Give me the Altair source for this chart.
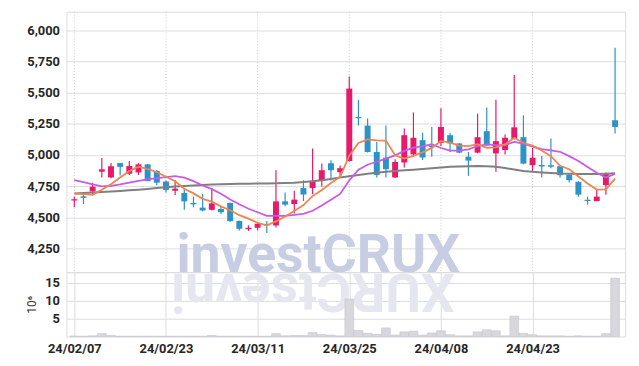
import altair as alt
import pandas as pd

dates = ["24/02/07", "24/02/08", "24/02/13", "24/02/14", "24/02/15", "24/02/16", "24/02/19", "24/02/20", "24/02/21", "24/02/22",
         "24/02/23", "24/02/26", "24/02/27", "24/02/28", "24/02/29", "24/03/04", "24/03/05", "24/03/06", "24/03/07", "24/03/08",
         "24/03/11", "24/03/12", "24/03/13", "24/03/14", "24/03/15", "24/03/18", "24/03/19", "24/03/20", "24/03/21", "24/03/22",
         "24/03/25", "24/03/26", "24/03/27", "24/03/28", "24/03/29", "24/04/01", "24/04/02", "24/04/03", "24/04/04", "24/04/05",
         "24/04/08", "24/04/09", "24/04/11", "24/04/12", "24/04/15", "24/04/16", "24/04/17", "24/04/18", "24/04/19", "24/04/22",
         "24/04/23", "24/04/24", "24/04/25", "24/04/26", "24/04/29", "24/04/30", "24/05/02", "24/05/03", "24/05/07", "24/05/08"]

opens = [4635, 4668, 4708, 4866, 4820, 4935, 4850, 4860, 4925, 4872,
         4787, 4713, 4695, 4616, 4578, 4560, 4567, 4615, 4471, 4405,
         4416, 4447, 4435, 4628, 4607, 4735, 4735, 4795, 4934, 4862,
         4952, 5305, 5236, 5024, 4979, 4820, 4940, 5005, 5119, 5074,
         5098, 5159, 5093, 4986, 5019, 5191, 5013, 5040, 5130, 5143,
         4918, 4920, 4918, 4910, 4841, 4785, 4641, 4630, 4758, 5279]
closes = [4645, 4656, 4745, 4885, 4910, 4905, 4912, 4925, 4790, 4778,
          4720, 4730, 4628, 4604, 4555, 4612, 4541, 4469, 4408, 4416,
          4448, 4435, 4628, 4602, 4642, 4683, 4793, 4878, 4878, 4894,
          5533, 5295, 5024, 4840, 4886, 4944, 5159, 5138, 4980, 5062,
          5225, 5093, 5019, 4955, 5143, 5077, 5111, 5138, 5222, 4931,
          4978, 4908, 4906, 4838, 4798, 4682, 4631, 4666, 4846, 5225]
highs = [4665, 4700, 4777, 4975, 4935, 4935, 4952, 4935, 4928, 4880,
         4798, 4798, 4730, 4666, 4688, 4735, 4590, 4618, 4475, 4435,
         4462, 4470, 4878, 4700, 4713, 4798, 5053, 4931, 4958, 4915,
         5630, 5443, 5292, 5104, 5236, 4966, 5212, 5342, 5178, 5225,
         5376, 5178, 5095, 5024, 5332, 5382, 5443, 5164, 5642, 5318,
         5058, 4992, 5133, 4915, 4845, 4790, 4666, 4727, 4859, 5860]
lows = [4580, 4607, 4680, 4820, 4813, 4835, 4840, 4840, 4795, 4757,
        4700, 4680, 4560, 4580, 4548, 4555, 4525, 4465, 4395, 4390,
        4395, 4375, 4418, 4588, 4530, 4630, 4685, 4745, 4795, 4822,
        4945, 5236, 5020, 4820, 4820, 4815, 4900, 4986, 4960, 4986,
        5072, 5024, 5015, 4833, 5013, 5072, 4865, 5005, 5125, 4926,
        4865, 4820, 4894, 4820, 4780, 4666, 4602, 4628, 4682, 5173]
volumes = [0.15, 0.1, 0.2, 0.8, 0.3, 0.1, 0.1, 0.1, 0.1, 0.1,
           0.1, 0.1, 0.1, 0.1, 0.1, 0.3, 0.1, 0.1, 0.1, 0.1,
           0.1, 0.1, 0.8, 0.2, 0.3, 0.3, 1.1, 0.6, 0.4, 0.2,
           10.5, 1.7, 0.9, 0.6, 2.4, 0.4, 1.3, 1.5, 0.4, 1.0,
           1.6, 0.5, 0.2, 0.2, 1.3, 1.9, 1.6, 0.2, 5.7, 0.9,
           0.5, 0.2, 0.2, 0.2, 0.1, 0.2, 0.1, 0.1, 0.8, 16.3]
ma5 = [4690, 4686, 4680, 4722, 4766, 4819, 4871, 4907, 4888, 4862,
       4825, 4789, 4729, 4692, 4648, 4626, 4588, 4557, 4517, 4489,
       4456, 4436, 4467, 4506, 4551, 4598, 4670, 4720, 4775, 4825,
       4995, 5096, 5125, 5118, 5116, 4998, 4971, 4993, 5021, 5057,
       5113, 5100, 5076, 5071, 5087, 5057, 5061, 5085, 5138, 5096,
       5076, 5036, 4990, 4913, 4886, 4827, 4772, 4723, 4725, 4810]
ma10 = [4798, 4782, 4765, 4748, 4752, 4764, 4778, 4792, 4805, 4814,
        4822, 4830, 4818, 4790, 4755, 4726, 4689, 4643, 4605, 4569,
        4541, 4512, 4512, 4512, 4520, 4527, 4553, 4594, 4641, 4688,
        4797, 4883, 4922, 4946, 4971, 4997, 5033, 5059, 5070, 5086,
        5056, 5035, 5035, 5046, 5072, 5085, 5080, 5080, 5105, 5091,
        5067, 5048, 5037, 5026, 4991, 4952, 4904, 4857, 4819, 4848]
ma_long = [4692, 4695, 4699, 4703, 4707, 4712, 4717, 4722, 4728, 4735,
           4742, 4748, 4752, 4756, 4760, 4763, 4766, 4768, 4769, 4770,
           4771, 4772, 4773, 4775, 4778, 4783, 4790, 4798, 4808, 4820,
           4830, 4840, 4850, 4858, 4865, 4871, 4877, 4882, 4887, 4893,
           4900, 4905, 4908, 4910, 4911, 4910, 4905, 4895, 4883, 4872,
           4865, 4860, 4856, 4852, 4850, 4848, 4847, 4848, 4850, 4853]

price_ticks = [4250, 4500, 4750, 5000, 5250, 5500, 5750, 6000]
vol_ticks = [5, 10, 15]
date_tick_idx = [0, 10, 20, 30, 40, 50]
watermark = "investCRUX"

df = pd.DataFrame({
    "i": list(range(len(dates))), "date": dates,
    "open": opens, "high": highs, "low": lows, "close": closes,
    "vol": volumes, "ma5": ma5, "ma10": ma10, "malong": ma_long,
})
grid_df = pd.DataFrame({"i": date_tick_idx})

UP = "#e8196a"
DOWN = "#2b93c6"
W, H1, H2 = 564, 263, 65
FONT = "Roboto"
GRID = "#c6c8dc"
LBL = dict(labelFont=FONT, labelFontSize=13, labelFontWeight="bold", labelColor="#262626")

xscale = alt.Scale(domain=[-0.32, 59.55], nice=False, zero=False)
label_expr = " : ".join(f"datum.value == {t} ? '{dates[t]}'" for t in date_tick_idx) + " : ''"

color = alt.condition("datum.close >= datum.open", alt.value(UP), alt.value(DOWN))
yprice = alt.Scale(domain=[4060, 6150], nice=False, zero=False)


def X():
    return alt.X("i:Q", scale=xscale, axis=None)


def Yp(field):
    return alt.Y(field, scale=yprice, title=None,
                 axis=alt.Axis(values=price_ticks, format=",.0f", ticks=False, domain=False, grid=True,
                               labelPadding=7, **LBL))


base = alt.Chart(df)

vgrid = alt.Chart(grid_df).mark_rule(color=GRID, strokeDash=[1, 2], strokeWidth=1).encode(x=X())

wm = alt.Chart(pd.DataFrame({"t": [watermark]})).mark_text(
    font="Roboto", fontSize=54, fontWeight="bold", color="#c7cde2", align="left", baseline="alphabetic"
).encode(x=alt.value(111), y=alt.value(263), text="t:N")

wick = base.mark_rule(strokeWidth=1.2).encode(x=X(), y=Yp("low:Q"), y2="high:Q", color=color)
body = base.mark_bar(size=6).encode(x=X(), y=Yp("open:Q"), y2="close:Q", color=color)
line_long = base.mark_line(color="#808080", strokeWidth=2).encode(x=X(), y=Yp("malong:Q"))
line10 = base.mark_line(color="#c95ae6", strokeWidth=1.8).encode(x=X(), y=Yp("ma10:Q"))
line5 = base.mark_line(color="#ee8450", strokeWidth=1.8).encode(x=X(), y=Yp("ma5:Q"))

price = alt.layer(vgrid, wm, wick, body, line_long, line10, line5).properties(width=W, height=H1)

refl = alt.Chart(pd.DataFrame({"t": [watermark[::-1]]})).mark_text(
    font="Roboto", fontSize=54, fontWeight="bold", color="#e5e6ef", align="left", baseline="alphabetic", angle=180
).encode(x=alt.value(392), y=alt.value(2), text="t:N")

vbars = base.mark_bar(size=8.8, color="#d7d7dd", stroke="#c3c3cb", strokeWidth=0.6).encode(
    x=alt.X("i:Q", scale=xscale, title=None,
            axis=alt.Axis(values=date_tick_idx, labelExpr=label_expr, ticks=False, domain=False, grid=True,
                          labelPadding=6, labelFont=FONT, labelFontSize=13, labelFontWeight="bold",
                          labelColor="#262626")),
    y=alt.Y("vol:Q", scale=alt.Scale(domain=[0, 18], nice=False),
            axis=alt.Axis(values=vol_ticks, ticks=False, domain=False, grid=True, title="10⁶",
                          titleFont=FONT, titleFontSize=12, titleFontWeight="normal", titleColor="#333333",
                          titlePadding=6, labelPadding=7, **LBL)))

volume = alt.layer(refl, vbars).properties(width=W, height=H2)

chart = alt.vconcat(price, volume, spacing=0, bounds="flush").properties(
    padding={"left": 17, "top": 1, "right": 5, "bottom": 5}
).configure_view(stroke="#cfd0d8", strokeWidth=1.5).configure_axis(
    gridColor=GRID, gridDash=[1, 2], gridWidth=1
).configure(background="white")

chart.save("out.html", embed_options={"renderer": "svg", "actions": False})
